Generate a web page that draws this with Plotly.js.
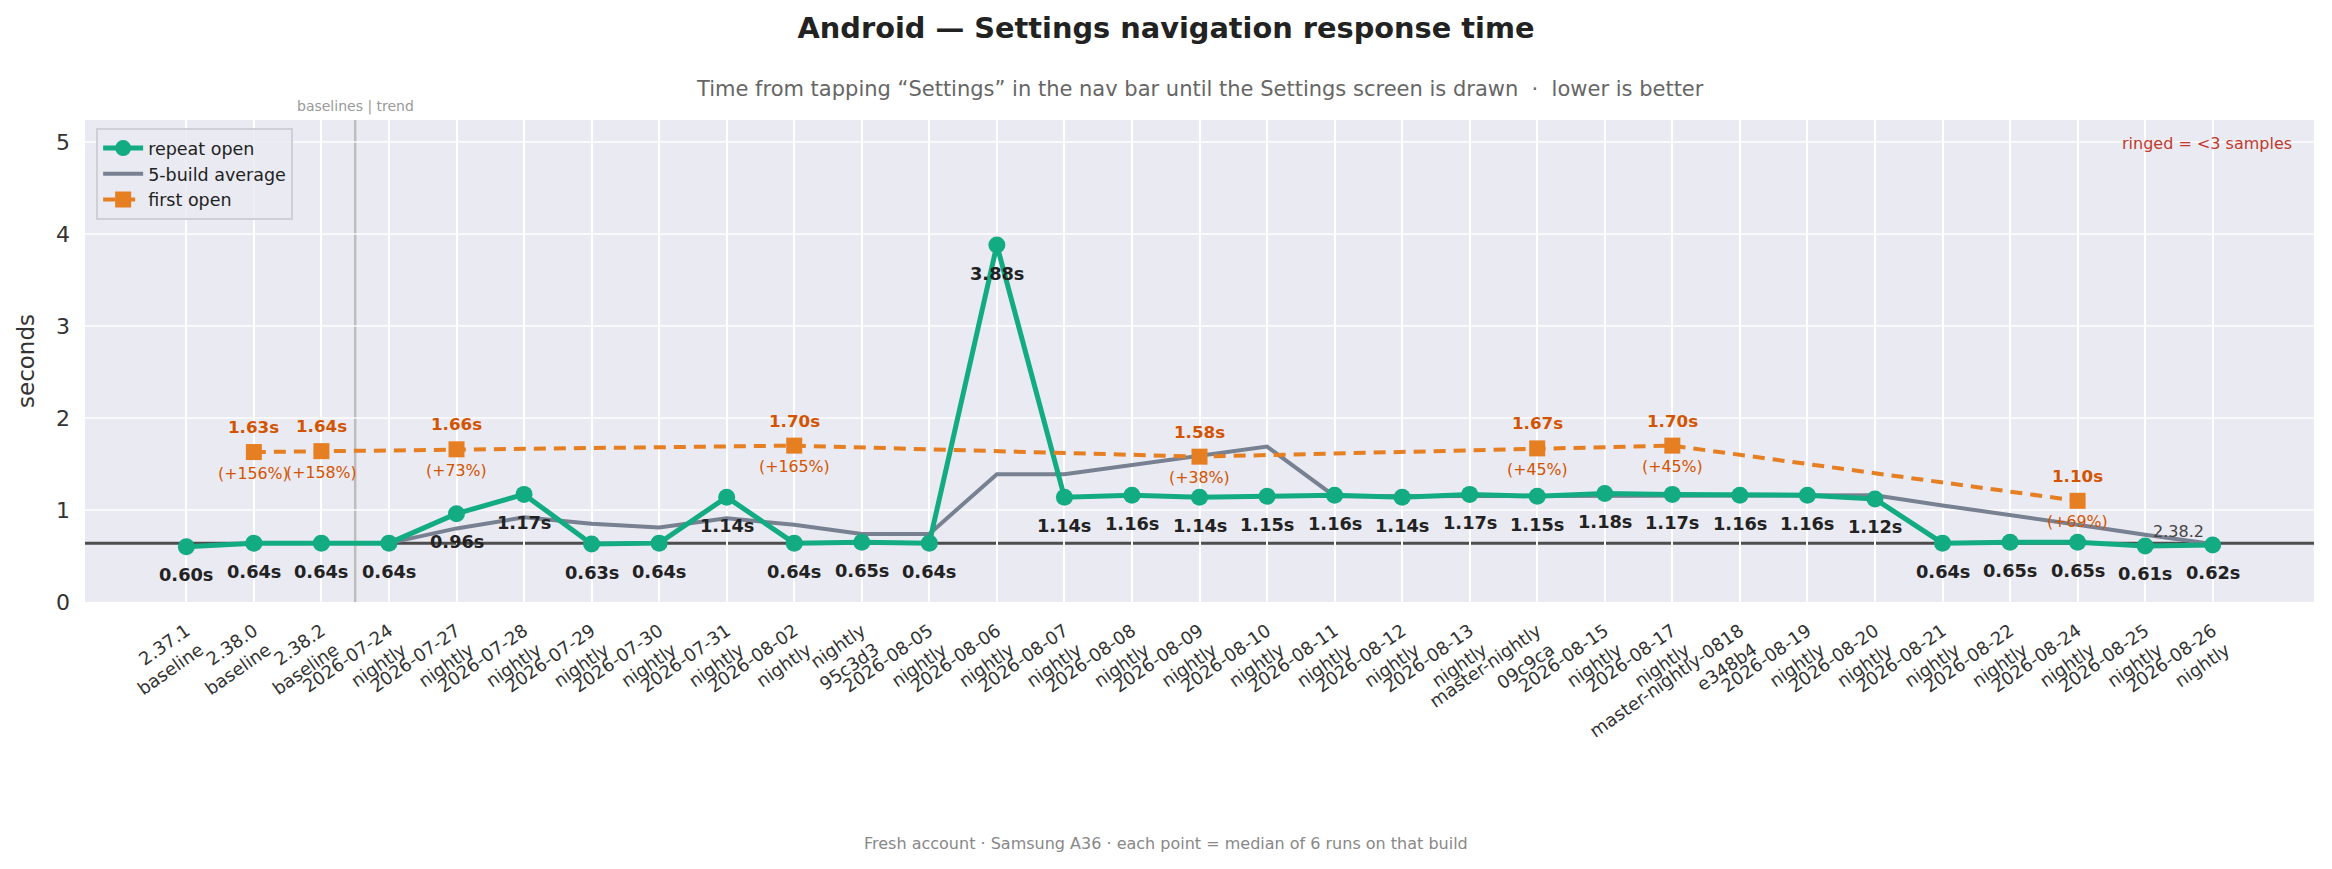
<!DOCTYPE html>
<html>
<head>
<meta charset="utf-8">
<script src="https://cdn.plot.ly/plotly-3.0.1.min.js"></script>
<style>
  html, body { margin: 0; padding: 0; background: #fff; }
  #chart { width: 2332px; height: 869px; }
</style>
</head>
<body>
<div id="chart"></div>
<script>
// ── Data ──────────────────────────────────────────────────────────────────────
const builds = [
  '2.37.1<br>baseline', '2.38.0<br>baseline', '2.38.2<br>baseline',
  '2026-07-24<br>nightly', '2026-07-27<br>nightly', '2026-07-28<br>nightly',
  '2026-07-29<br>nightly', '2026-07-30<br>nightly', '2026-07-31<br>nightly',
  '2026-08-02<br>nightly', 'nightly<br>95c3d3', '2026-08-05<br>nightly',
  '2026-08-06<br>nightly', '2026-08-07<br>nightly', '2026-08-08<br>nightly',
  '2026-08-09<br>nightly', '2026-08-10<br>nightly', '2026-08-11<br>nightly',
  '2026-08-12<br>nightly', '2026-08-13<br>nightly', 'master-nightly<br>09c9ca',
  '2026-08-15<br>nightly', '2026-08-17<br>nightly', 'master-nightly-0818<br>e348b4',
  '2026-08-19<br>nightly', '2026-08-20<br>nightly', '2026-08-21<br>nightly',
  '2026-08-22<br>nightly', '2026-08-24<br>nightly', '2026-08-25<br>nightly',
  '2026-08-26<br>nightly',
];

const repeatOpen = [
  0.60, 0.64, 0.64, 0.64, 0.96, 1.17, 0.63, 0.64, 1.14, 0.64, 0.65,
  0.64, 3.88, 1.14, 1.16, 1.14, 1.15, 1.16, 1.14, 1.17, 1.15, 1.18,
  1.17, 1.16, 1.16, 1.12, 0.64, 0.65, 0.65, 0.61, 0.62,
];

const fiveBuildAvg = [
  null, null, null, 0.64, 0.80, 0.92, 0.85, 0.81, 0.91, 0.84, 0.74,
  0.74, 1.39, 1.39, 1.49, 1.59, 1.69, 1.15, 1.15, 1.15, 1.15, 1.16,
  1.16, 1.16, 1.16, 1.16, 1.05, 0.95, 0.84, 0.73, 0.63,
];

const firstOpen = [
  null, 1.63, 1.64, null, 1.66, null, null, null, null, 1.70, null,
  null, null, null, null, 1.58, null, null, null, null, 1.67, null,
  1.70, null, null, null, null, null, 1.10, null, null,
];

const firstOpenPct = [
  null, '+156%', '+158%', null, '+73%', null, null, null, null, '+165%', null,
  null, null, null, null, '+38%', null, null, null, null, '+45%', null,
  '+45%', null, null, null, null, null, '+69%', null, null,
];

const baselineLabel = '2.38.2';
const baselineValue = 0.64;
const splitAfter = 2.5;   // between the baselines and the nightly trend

// ── Styles ────────────────────────────────────────────────────────────────────
const FONT   = 'DejaVu Sans, sans-serif';
const GREEN  = '#12ab82';
const ORANGE = '#e67e22';
const ORANGE_TXT = '#d35400';
const SLATE  = '#778191';

// ── Traces ────────────────────────────────────────────────────────────────────
const traces = [
  {
    type: 'scatter', mode: 'lines', name: '5-build average',
    x: builds, y: fiveBuildAvg,
    line: { color: SLATE, width: 4 },
    legendrank: 2, hoverinfo: 'skip',
  },
  {
    type: 'scatter', mode: 'lines+markers', name: 'repeat open',
    x: builds, y: repeatOpen,
    line: { color: GREEN, width: 5 },
    marker: { color: GREEN, size: 17, symbol: 'circle' },
    legendrank: 1,
  },
  {
    type: 'scatter', mode: 'lines+markers', name: 'first open',
    x: builds, y: firstOpen, connectgaps: true,
    line: { color: ORANGE, width: 4, dash: '12px,8px' },
    marker: { color: ORANGE, size: 16, symbol: 'square' },
    legendrank: 3,
  },
];

// ── Annotations ───────────────────────────────────────────────────────────────
const annotations = [];

repeatOpen.forEach((v, i) => {
  annotations.push({
    x: builds[i], y: v, yshift: -28, yanchor: 'middle', showarrow: false,
    text: v.toFixed(2) + 's',
    font: { family: FONT, size: 17.8, color: '#222', weight: 'bold' },
  });
});

firstOpen.forEach((v, i) => {
  if (v === null) return;
  annotations.push({
    x: builds[i], y: v, yshift: 25, yanchor: 'middle', showarrow: false,
    text: v.toFixed(2) + 's',
    font: { family: FONT, size: 16.7, color: ORANGE_TXT, weight: 'bold' },
  });
  annotations.push({
    x: builds[i], y: v, yshift: -21, yanchor: 'middle', showarrow: false,
    text: '(' + firstOpenPct[i] + ')',
    font: { family: FONT, size: 15.8, color: ORANGE_TXT },
  });
});

annotations.push(
  {
    xref: 'x', x: splitAfter, yref: 'paper', y: 1.027, yanchor: 'middle', showarrow: false,
    text: 'baselines | trend',
    font: { family: FONT, size: 14, color: '#999' },
  },
  {
    xref: 'x', x: builds.length - 1.5, yref: 'y', y: baselineValue, yshift: 12,
    yanchor: 'middle', showarrow: false, text: baselineLabel,
    font: { family: FONT, size: 16, color: '#444' },
  },
  {
    xref: 'paper', x: 0.991, xanchor: 'right', yref: 'paper', y: 0.951, yanchor: 'middle',
    showarrow: false, text: 'ringed = &lt;3 samples',
    font: { family: FONT, size: 16, color: '#c0392b' },
  },
  {
    xref: 'paper', x: 0.5, yref: 'paper', y: 1.064, yanchor: 'middle', showarrow: false,
    text: 'Time from tapping \u201cSettings\u201d in the nav bar until the Settings screen is drawn \u00a0\u00b7\u00a0 lower is better',
    font: { family: FONT, size: 21, color: '#666' },
  },
  {
    // centred on the whole figure, not on the axes
    xref: 'paper', x: 0.485, yref: 'paper', y: -0.5, yanchor: 'middle', showarrow: false,
    text: 'Fresh account \u00b7 Samsung A36 \u00b7 each point = median of 6 runs on that build',
    font: { family: FONT, size: 16, color: '#888' },
  }
);

// ── Layout ────────────────────────────────────────────────────────────────────
const layout = {
  width: 2332, height: 869,
  margin: { l: 85, r: 18, t: 120, b: 267 },
  paper_bgcolor: '#fff',
  plot_bgcolor: '#eaeaf2',
  font: { family: FONT, color: '#333' },
  title: {
    text: '<b>Android \u2014 Settings navigation response time</b>',
    xref: 'container', x: 0.5, xanchor: 'center',
    yref: 'container', y: 0.968, yanchor: 'middle',
    font: { family: FONT, size: 28.8, color: '#222' },
  },
  showlegend: true,
  legend: {
    x: 0.005, xanchor: 'left', y: 0.983, yanchor: 'top',
    bgcolor: 'rgba(234,234,242,0.85)', bordercolor: '#cfcfd6', borderwidth: 2,
    font: { family: FONT, size: 17.5, color: '#222' },
    tracegroupgap: 0, itemwidth: 40,
  },
  xaxis: {
    type: 'category',
    range: [-1.5, builds.length + 0.5],
    showgrid: true, gridcolor: '#ffffff', gridwidth: 2,
    zeroline: false, showline: false, ticks: '',
    tickangle: -35,
    ticklabelstandoff: 14,
    tickfont: { family: FONT, size: 18, color: '#333' },
    automargin: false,
  },
  yaxis: {
    range: [0, 5.24], dtick: 1,
    showgrid: true, gridcolor: 'rgba(255,255,255,0.7)', gridwidth: 2,
    zeroline: false, showline: false, ticks: '',
    ticklabelstandoff: 14,
    tickfont: { family: FONT, size: 22, color: '#333' },
    title: { text: 'seconds', font: { family: FONT, size: 23, color: '#333' }, standoff: 14 },
    automargin: false,
  },
  shapes: [
    {
      type: 'line', layer: 'between',
      xref: 'paper', x0: 0, x1: 1, yref: 'y', y0: baselineValue, y1: baselineValue,
      line: { color: '#4d4d4d', width: 3 },
    },
    {
      type: 'line', layer: 'between',
      xref: 'x', x0: splitAfter, x1: splitAfter, yref: 'paper', y0: 0, y1: 1,
      line: { color: '#bdbdbd', width: 2.5 },
    },
  ],
  annotations,
};

Plotly.newPlot('chart', traces, layout, { staticPlot: true, displayModeBar: false });
</script>
</body>
</html>
